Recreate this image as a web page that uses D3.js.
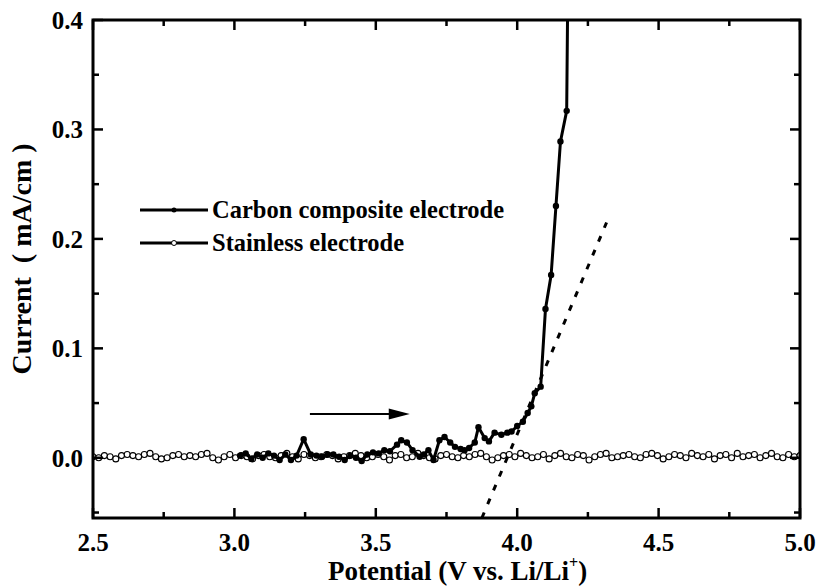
<!DOCTYPE html>
<html><head><meta charset="utf-8">
<script src="https://cdn.jsdelivr.net/npm/d3@7"></script>
<style>body{margin:0;background:#fff}svg{display:block}text{font-family:"Liberation Serif","Times New Roman",serif;font-weight:bold;fill:#000}</style>
</head><body><svg id="c" width="819" height="588"></svg>
<script>
// ---- data ----
const xTicks = [2.5, 3.0, 3.5, 4.0, 4.5, 5.0];
const yTicks = [0.0, 0.1, 0.2, 0.3, 0.4];
const seriesNames = ["Carbon composite electrode", "Stainless electrode"];
const carbonX = [3.02,3.04,3.06,3.08,3.10,3.12,3.14,3.16,3.18,3.20,3.22,3.245,3.27,3.29,3.31,3.33,3.35,3.37,3.39,3.41,3.43,3.45,3.47,3.49,3.51,3.53,3.55,3.575,3.59,3.61,3.63,3.655,3.67,3.686,3.704,3.725,3.743,3.763,3.78,3.80,3.814,3.83,3.85,3.863,3.885,3.90,3.92,3.944,3.965,3.98,4.00,4.02,4.037,4.05,4.062,4.083,4.10,4.12,4.137,4.153,4.175,4.18];
const carbonY = [0.002,0.004,-0.001,0.003,0.000,0.004,0.002,-0.002,0.003,-0.002,0.002,0.017,0.003,0.002,0.001,0.003,0.003,0.001,-0.002,0.002,0.000,-0.003,0.003,0.005,0.004,0.007,0.006,0.012,0.016,0.014,0.007,0.001,0.003,0.007,-0.002,0.016,0.019,0.014,0.010,0.008,0.007,0.009,0.014,0.028,0.018,0.015,0.023,0.021,0.023,0.024,0.029,0.033,0.041,0.047,0.059,0.065,0.136,0.167,0.230,0.289,0.317,0.46];
const stainlessY = [1,0,2,1,-1,2,3,2,1,3,4,1,-1,0,2,3,1,2,1,3,4,0,-2,1,3,0,2,1,-1,2,3,1,0,2,4,1,-1,3,2,0,1,3,2,-1,1,2,4,2,0,1,3,1,-2,2,3,0,1,4,2,0,-1,2,3,1,0,2,1,3,4,1,-2,0,2,3,1,4,2,0,1,3,-1,2,4,1,0,3,2,-2,1,3,4,0,1,2,3,1,0,3,4,2,-1,1,3,2,0,4,2,1,3,-1,2,3,0,4,1,2,3,0,2,4,1,0,3,1,2].map(v => v / 1000);
const tangentX = [3.875, 4.316];
const tangentY = [-0.055, 0.215];
const arrowX = [3.267, 3.62];
const arrowY = [0.04, 0.04];

// ---- layout ----
const svg = d3.select("#c");
const m = {l: 93, r: 800, t: 20, b: 518};
const x = d3.scaleLinear().domain([2.5, 5.0]).range([m.l, m.r]);
const y = d3.scaleLinear().domain([-0.055, 0.4]).range([m.b, m.t]);

svg.append("defs").append("clipPath").attr("id", "clip")
  .append("rect").attr("x", m.l).attr("y", m.t).attr("width", m.r - m.l).attr("height", m.b - m.t);

const plot = svg.append("g").attr("clip-path", "url(#clip)");

// stainless
const sData = stainlessY.map((v, i) => [2.5 + i * 2.5 / (stainlessY.length - 1), v]);
plot.append("path").datum(sData)
  .attr("d", d3.line().x(d => x(d[0])).y(d => y(d[1])))
  .attr("fill", "none").attr("stroke", "#000").attr("stroke-width", 1);
plot.selectAll("circle.s").data(sData).join("circle").attr("class", "s")
  .attr("cx", d => x(d[0])).attr("cy", d => y(d[1])).attr("r", 3)
  .attr("fill", "#fff").attr("stroke", "#000").attr("stroke-width", 1.1);

// carbon
const cData = carbonX.map((v, i) => [v, carbonY[i]]);
plot.append("path").datum(cData)
  .attr("d", d3.line().x(d => x(d[0])).y(d => y(d[1])))
  .attr("fill", "none").attr("stroke", "#000").attr("stroke-width", 3).attr("stroke-linejoin", "round");
plot.selectAll("circle.c").data(cData).join("circle").attr("class", "c")
  .attr("cx", d => x(d[0])).attr("cy", d => y(d[1])).attr("r", 3.2).attr("fill", "#000");

// tangent dashed
plot.append("line")
  .attr("x1", x(tangentX[0])).attr("y1", y(tangentY[0]))
  .attr("x2", x(tangentX[1])).attr("y2", y(tangentY[1]))
  .attr("stroke", "#000").attr("stroke-width", 3).attr("stroke-dasharray", "6,9");

// arrow
const ax1 = x(arrowX[0]), ax2 = x(arrowX[1]), ay = y(arrowY[0]);
svg.append("line").attr("x1", ax1).attr("y1", ay).attr("x2", ax2 - 18).attr("y2", ay)
  .attr("stroke", "#000").attr("stroke-width", 2);
svg.append("path").attr("d", `M${ax2},${ay} L${ax2 - 21},${ay - 5.5} L${ax2 - 21},${ay + 5.5} Z`).attr("fill", "#000");

// axes with inward ticks
const minorX = d3.range(2.5, 5.001, 0.25);
const minorY = d3.range(-0.05, 0.401, 0.05);
const frame = svg.append("g");
minorX.forEach(v => {
  const major = Math.abs(v * 2 - Math.round(v * 2)) < 1e-6;
  const L = major ? 10 : 6;
  frame.append("line").attr("x1", x(v)).attr("x2", x(v)).attr("y1", m.b).attr("y2", m.b - L).attr("stroke", "#000").attr("stroke-width", 2.5);
  frame.append("line").attr("x1", x(v)).attr("x2", x(v)).attr("y1", m.t).attr("y2", m.t + L).attr("stroke", "#000").attr("stroke-width", 2.5);
});
minorY.forEach(v => {
  const major = Math.abs(v * 10 - Math.round(v * 10)) < 1e-6;
  const L = major ? 10 : 6;
  frame.append("line").attr("x1", m.l).attr("x2", m.l + L).attr("y1", y(v)).attr("y2", y(v)).attr("stroke", "#000").attr("stroke-width", 2.5);
  frame.append("line").attr("x1", m.r).attr("x2", m.r - L).attr("y1", y(v)).attr("y2", y(v)).attr("stroke", "#000").attr("stroke-width", 2.5);
});
frame.append("rect").attr("x", m.l).attr("y", m.t).attr("width", m.r - m.l).attr("height", m.b - m.t)
  .attr("fill", "none").attr("stroke", "#000").attr("stroke-width", 3);

// tick labels
svg.selectAll("text.xt").data(xTicks).join("text").attr("class", "xt")
  .attr("x", d => x(d)).attr("y", 551).attr("text-anchor", "middle").attr("font-size", 25)
  .text(d => d.toFixed(1));
svg.selectAll("text.yt").data(yTicks).join("text").attr("class", "yt")
  .attr("x", 83).attr("y", d => y(d) + 9).attr("text-anchor", "end").attr("font-size", 25)
  .text(d => d.toFixed(1));

// axis titles
const xt = svg.append("text").attr("x", 328).attr("y", 580).attr("text-anchor", "start").attr("font-size", 27);
xt.append("tspan").text("Potential (V vs. Li/Li");
xt.append("tspan").attr("font-size", 16).attr("dy", -12).text("+");
xt.append("tspan").attr("dy", 12).text(")");
svg.append("text").attr("transform", "translate(31,259) rotate(-90)").attr("text-anchor", "middle")
  .attr("font-size", 28).attr("xml:space", "preserve").text("Current  ( mA/cm )");

// legend
const leg = svg.append("g");
seriesNames.forEach((name, i) => {
  const ly = 210 + i * 33;
  leg.append("line").attr("x1", 140).attr("x2", 208).attr("y1", ly).attr("y2", ly).attr("stroke", "#000").attr("stroke-width", 3);
  if (i === 0) leg.append("circle").attr("cx", 174).attr("cy", ly).attr("r", 2.5).attr("fill", "#000");
  else leg.append("circle").attr("cx", 174).attr("cy", ly).attr("r", 2.5).attr("fill", "#fff").attr("stroke", "#000").attr("stroke-width", 1);
  leg.append("text").attr("x", 212).attr("y", ly + 8).attr("font-size", 24.5).text(name);
});
</script></body></html>
